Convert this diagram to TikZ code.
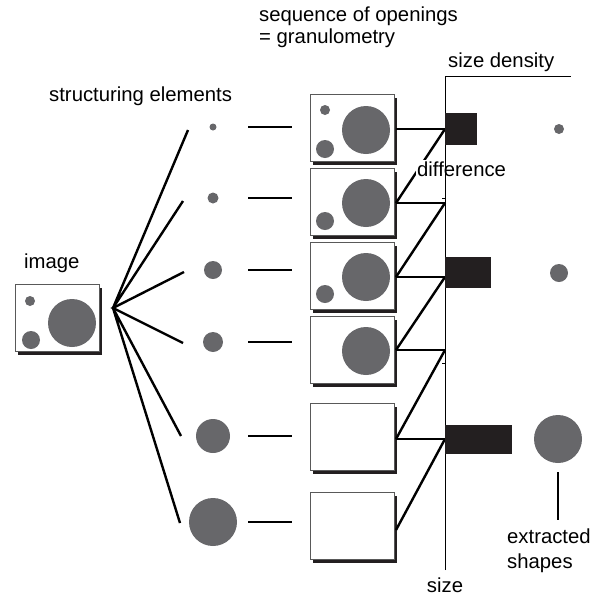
\documentclass[tikz,border=0pt]{standalone}
\usepackage{fontspec}
\setmainfont{Liberation Sans}
\usepackage{xcolor}
\usepackage{tikz}
\usetikzlibrary{positioning}
\usetikzlibrary{shadows}
\definecolor{blobgray}{RGB}{103,103,106}
\definecolor{bardark}{RGB}{35,31,32}

\begin{document}
\begin{tikzpicture}[x=1pt,y=-1pt,
    font=\fontsize{20.3}{25}\selectfont,
    blob/.style={circle,fill=blobgray,inner sep=0pt},
    frame/.style={draw=black!65,line width=0.8pt,fill=white,inner sep=0pt,
      minimum width=84pt,minimum height=67pt,
      drop shadow={shadow xshift=3pt,shadow yshift=-3pt,fill=bardark,opacity=1}},
    bar/.style={fill=bardark,inner sep=0pt,anchor=west},
    link/.style={line width=2.4pt},
    axisline/.style={line width=0.9pt},
    lbl/.style={inner sep=0pt,anchor=base west}]
  \useasboundingbox (0,0) rectangle (606,598);

  % labels
  \node [lbl] (tseq) at (259,21) {sequence of openings};
  \node [lbl] (tgran) at (259,43) {= granulometry};
  \node [lbl] (tse) at (49,101) {structuring elements};
  \node [lbl] (timg) at (24,268) {image};
  \node [lbl] (tdens) at (448,67) {size density};
  \node [lbl,anchor=base] (tsize) at (445,592) {size};
  \node [lbl,align=left,anchor=north west] (tshapes) at (507,529) {extracted\\shapes};

  % input image
  \node [frame] (pic) at (57,318) {};
  \node [blob,minimum size=10pt] (picA) at ([shift={(-27,-17)}]pic.center) {};
  \node [blob,minimum size=18pt] (picB) at ([shift={(-26,22)}]pic.center) {};
  \node [blob,minimum size=48pt] (picC) at ([shift={(15,5)}]pic.center) {};

  % structuring elements
  \node [blob,minimum size=7pt] (s1) at (213,127) {};
  \node [blob,minimum size=11pt] (s2) at (213,198) {};
  \node [blob,minimum size=18pt] (s3) at (213,270) {};
  \node [blob,minimum size=20pt] (s4) at (213,342) {};
  \node [blob,minimum size=34pt] (s5) at (213,436) {};
  \node [blob,minimum size=48pt] (s6) at (213,522) {};

  \coordinate (fan) at (113,308);
  \coordinate (e1) at (188,130);
  \coordinate (e2) at (183,201);
  \coordinate (e3) at (184,272);
  \coordinate (e4) at (183,343);
  \coordinate (e5) at (181,436);
  \coordinate (e6) at (180,523);
  \draw [link] (e1) -- (fan) -- (e2);
  \draw [link] (e3) -- (fan) -- (e4);
  \draw [link] (e5) -- (fan) -- (e6);

  % openings
  \node [frame] (o1) at (352,128) {};
  \node [frame] (o2) at (352,202) {};
  \node [frame] (o3) at (352,276) {};
  \node [frame] (o4) at (352,350) {};
  \node [frame] (o5) at (352,437) {};
  \node [frame] (o6) at (352,526) {};
  \node [blob,minimum size=10pt] (o1a) at ([shift={(-27,-18)}]o1.center) {};
  \node [blob,minimum size=18pt] (o1b) at ([shift={(-27,21)}]o1.center) {};
  \node [blob,minimum size=48pt] (o1c) at ([shift={(14,2)}]o1.center) {};
  \node [blob,minimum size=18pt] (o2b) at ([shift={(-27,19)}]o2.center) {};
  \node [blob,minimum size=48pt] (o2c) at ([shift={(14,1)}]o2.center) {};
  \node [blob,minimum size=18pt] (o3b) at ([shift={(-27,18)}]o3.center) {};
  \node [blob,minimum size=48pt] (o3c) at ([shift={(14,1)}]o3.center) {};
  \node [blob,minimum size=48pt] (o4c) at ([shift={(14,1)}]o4.center) {};

  \draw [link,shorten <=35pt,shorten >=18pt] (s1.center) -- (s1.center -| o1.west);
  \draw [link,shorten <=35pt,shorten >=18pt] (s2.center) -- (s2.center -| o2.west);
  \draw [link,shorten <=35pt,shorten >=18pt] (s3.center) -- (s3.center -| o3.west);
  \draw [link,shorten <=35pt,shorten >=18pt] (s4.center) -- (s4.center -| o4.west);
  \draw [link,shorten <=35pt,shorten >=18pt] (s5.center) -- (s5.center -| o5.west);
  \draw [link,shorten <=35pt,shorten >=18pt] (s6.center) -- (s6.center -| o6.west);

  % differences
  \coordinate (ax) at (445,76);
  \coordinate (axb) at (445,570);
  \coordinate (j1) at (396,129);
  \coordinate (j2) at (396,203);
  \coordinate (j3) at (396,277);
  \coordinate (j4) at (396,350);
  \coordinate (j5) at (396,439);
  \coordinate (j6) at (396,530);
  \draw [link] (j1) -- (j1 -| ax);
  \draw [link] (j2) -- (j2 -| ax);
  \draw [link] (j3) -- (j3 -| ax);
  \draw [link] (j4) -- (j4 -| ax);
  \draw [link] (j5) -- (j5 -| ax);
  \draw [link] (j2) -- (j1 -| ax);
  \draw [link] (j3) -- (j2 -| ax);
  \draw [link] (j4) -- (j3 -| ax);
  \draw [link] (j5) -- (j4 -| ax);
  \draw [link] (j6) -- (j5 -| ax);
  \node [lbl,fill=white,inner sep=1pt] (tdiff) at (416,176) {difference};

  % size density axis
  \draw [axisline] (axb) -- (ax) -- ++(126,0);
  \draw [axisline] (442,198) -- (445,198);
  \draw [axisline] (442,363) -- (445,363);
  \node [bar,minimum width=32pt,minimum height=32pt] (b1) at (445,129) {};
  \node [bar,minimum width=46pt,minimum height=31pt] (b2) at (445,272.5) {};
  \node [bar,minimum width=67pt,minimum height=29pt] (b3) at (445,439.5) {};

  % extracted shapes
  \node [blob,minimum size=10pt] (x1) at (559,129) {};
  \node [blob,minimum size=18pt] (x2) at (559,273) {};
  \node [blob,minimum size=48pt] (x3) at (558,439) {};
  \draw [line width=1.4pt,shorten <=33pt,shorten >=9pt] (x3.center) -- (x3.center |- tshapes.north);
\end{tikzpicture}
\end{document}
